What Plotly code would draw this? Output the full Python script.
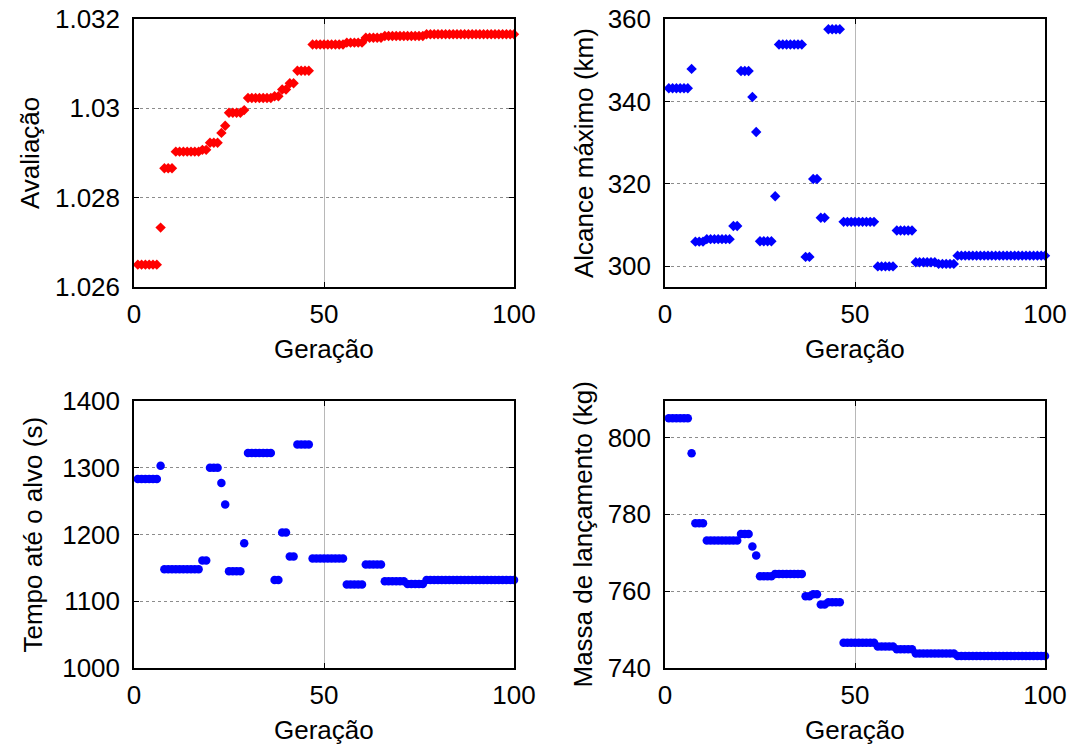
import plotly.graph_objects as go

# Generation index of the genetic algorithm
geracao = list(range(1, 101))

# Best-individual fitness per generation
avaliacao = [
    1.02650, 1.02650, 1.02650, 1.02650, 1.02650, 1.02650, 1.02733, 1.02866, 1.02866, 1.02866,
    1.02903, 1.02903, 1.02903, 1.02903, 1.02903, 1.02903, 1.02903, 1.02907, 1.02907, 1.02923,
    1.02923, 1.02923, 1.02945, 1.02961, 1.02990, 1.02990, 1.02990, 1.02990, 1.02996, 1.03023,
    1.03023, 1.03023, 1.03023, 1.03023, 1.03023, 1.03023, 1.03027, 1.03027, 1.03042, 1.03042,
    1.03056, 1.03056, 1.03084, 1.03084, 1.03084, 1.03084, 1.03143, 1.03143, 1.03143, 1.03143,
    1.03143, 1.03143, 1.03143, 1.03143, 1.03143, 1.03147, 1.03147, 1.03147, 1.03147, 1.03147,
    1.03158, 1.03158, 1.03158, 1.03158, 1.03158, 1.03162, 1.03162, 1.03162, 1.03162, 1.03162,
    1.03162, 1.03162, 1.03162, 1.03162, 1.03162, 1.03162, 1.03166, 1.03166, 1.03166, 1.03166,
    1.03166, 1.03166, 1.03166, 1.03166, 1.03166, 1.03166, 1.03166, 1.03166, 1.03166, 1.03166,
    1.03166, 1.03166, 1.03166, 1.03166, 1.03166, 1.03166, 1.03166, 1.03166, 1.03166, 1.03166,
]

# Maximum range (km)
alcance = [
    343.2, 343.2, 343.2, 343.2, 343.2, 343.2, 347.9, 306.0, 306.0, 306.0,
    306.6, 306.6, 306.6, 306.6, 306.6, 306.6, 306.6, 309.8, 309.8, 347.4,
    347.4, 347.4, 341.1, 332.6, 306.1, 306.1, 306.1, 306.1, 317.0, 353.8,
    353.8, 353.8, 353.8, 353.8, 353.8, 353.8, 302.3, 302.3, 321.2, 321.2,
    311.8, 311.8, 357.5, 357.5, 357.5, 357.5, 310.8, 310.8, 310.8, 310.8,
    310.8, 310.8, 310.8, 310.8, 310.8, 300.0, 300.0, 300.0, 300.0, 300.0,
    308.7, 308.7, 308.7, 308.7, 308.7, 301.0, 301.0, 301.0, 301.0, 301.0,
    301.0, 300.6, 300.6, 300.6, 300.6, 300.6, 302.6, 302.6, 302.6, 302.6,
    302.6, 302.6, 302.6, 302.6, 302.6, 302.6, 302.6, 302.6, 302.6, 302.6,
    302.6, 302.6, 302.6, 302.6, 302.6, 302.6, 302.6, 302.6, 302.6, 302.6,
]

# Time to target (s)
tempo = [
    1283, 1283, 1283, 1283, 1283, 1283, 1303, 1148, 1148, 1148,
    1148, 1148, 1148, 1148, 1148, 1148, 1148, 1161, 1161, 1300,
    1300, 1300, 1277, 1245, 1145, 1145, 1145, 1145, 1187, 1322,
    1322, 1322, 1322, 1322, 1322, 1322, 1132, 1132, 1203, 1203,
    1167, 1167, 1335, 1335, 1335, 1335, 1164, 1164, 1164, 1164,
    1164, 1164, 1164, 1164, 1164, 1125, 1125, 1125, 1125, 1125,
    1155, 1155, 1155, 1155, 1155, 1130, 1130, 1130, 1130, 1130,
    1130, 1126, 1126, 1126, 1126, 1126, 1132, 1132, 1132, 1132,
    1132, 1132, 1132, 1132, 1132, 1132, 1132, 1132, 1132, 1132,
    1132, 1132, 1132, 1132, 1132, 1132, 1132, 1132, 1132, 1132,
]

# Launch mass (kg)
massa = [
    805.0, 805.0, 805.0, 805.0, 805.0, 805.0, 795.9, 777.7, 777.7, 777.7,
    773.2, 773.2, 773.2, 773.2, 773.2, 773.2, 773.2, 773.2, 773.2, 774.9,
    774.9, 774.9, 771.6, 769.3, 763.9, 763.9, 763.9, 763.9, 764.5, 764.5,
    764.5, 764.5, 764.5, 764.5, 764.5, 764.5, 758.7, 758.7, 759.2, 759.2,
    756.5, 756.5, 757.1, 757.1, 757.1, 757.1, 746.6, 746.6, 746.6, 746.6,
    746.6, 746.6, 746.6, 746.6, 746.6, 745.6, 745.6, 745.6, 745.6, 745.6,
    744.9, 744.9, 744.9, 744.9, 744.9, 743.8, 743.8, 743.8, 743.8, 743.8,
    743.8, 743.8, 743.8, 743.8, 743.8, 743.8, 743.1, 743.1, 743.1, 743.1,
    743.1, 743.1, 743.1, 743.1, 743.1, 743.1, 743.1, 743.1, 743.1, 743.1,
    743.1, 743.1, 743.1, 743.1, 743.1, 743.1, 743.1, 743.1, 743.1, 743.1,
]

x_ticks = [0, 50, 100]
y1_ticks, y1_text = [1.026, 1.028, 1.030, 1.032], ["1.026", "1.028", "1.03", "1.032"]
y2_ticks = [300, 320, 340, 360]
y3_ticks = [1000, 1100, 1200, 1300, 1400]
y4_ticks = [740, 760, 780, 800]

W, H = 1072, 746
FONT = "Liberation Sans, Arial, sans-serif"
FS = 26

# Plot-area boxes in pixels: (left, right, top, bottom)
boxes = {
    1: (134, 514, 19, 287),
    2: (665, 1045, 19, 287),
    3: (134, 514, 401, 668),
    4: (665, 1045, 401, 668),
}


def xdom(b):
    return [b[0] / W, b[1] / W]


def ydom(b):
    return [(H - b[3]) / H, (H - b[2]) / H]


common = dict(
    showline=True, linecolor="black", linewidth=1.5, mirror="ticks",
    ticks="inside", ticklen=5, tickwidth=1.3, tickcolor="black",
    zeroline=False, showgrid=True, gridwidth=1, automargin=False,
    tickfont=dict(family=FONT, size=FS, color="black"),
)

fig = go.Figure()

series = [
    (avaliacao, "#ff0000", "diamond", 8),
    (alcance, "#0000ff", "diamond", 8),
    (tempo, "#0000ff", "circle", 8.5),
    (massa, "#0000ff", "circle", 8.5),
]
for i, (vals, col, sym, sz) in enumerate(series, start=1):
    sfx = "" if i == 1 else str(i)
    fig.add_trace(go.Scatter(
        x=geracao, y=vals, mode="markers", xaxis="x" + sfx, yaxis="y" + sfx,
        marker=dict(symbol=sym, size=sz, color=col, line=dict(width=0)),
        cliponaxis=False, showlegend=False, hoverinfo="x+y",
    ))

yspecs = {
    1: dict(range=[1.026, 1.032], tickvals=y1_ticks, ticktext=y1_text),
    2: dict(range=[295, 360], tickvals=y2_ticks),
    3: dict(range=[1000, 1400], tickvals=y3_ticks),
    4: dict(range=[740, 809.5], tickvals=y4_ticks),
}

layout = dict(
    width=W, height=H, margin=dict(l=0, r=0, t=0, b=0, autoexpand=False),
    paper_bgcolor="white", plot_bgcolor="white",
    font=dict(family=FONT, size=FS, color="black"),
)
for i, b in boxes.items():
    sfx = "" if i == 1 else str(i)
    layout["xaxis" + sfx] = dict(
        common, domain=xdom(b), anchor="y" + sfx, range=[0, 100], tickvals=x_ticks,
        gridcolor="#b8b8b8", ticklabelstandoff=3,
    )
    layout["yaxis" + sfx] = dict(
        common, domain=ydom(b), anchor="x" + sfx, griddash="dot",
        gridcolor="#8c8c8c", ticklabelstandoff=7, **yspecs[i],
    )

fig.update_layout(**layout)

# Axis titles
ytitles = {
    1: ("Avaliação", 30),
    2: ("Alcance máximo (km)", 584),
    3: ("Tempo até o alvo (s)", 32),
    4: ("Massa de lançamento (kg)", 582),
}
for i, b in boxes.items():
    text, xpx = ytitles[i]
    fig.add_annotation(
        text=text, x=xpx / W, y=1 - (b[2] + b[3]) / 2 / H, xref="paper", yref="paper",
        textangle=-90, showarrow=False, xanchor="center", yanchor="middle",
        font=dict(family=FONT, size=FS, color="black"),
    )
    fig.add_annotation(
        text="Geração", x=(b[0] + b[1]) / 2 / W, y=1 - (b[3] + 62) / H,
        xref="paper", yref="paper", showarrow=False,
        xanchor="center", yanchor="middle",
        font=dict(family=FONT, size=FS, color="black"),
    )

fig.write_html("out.html")
